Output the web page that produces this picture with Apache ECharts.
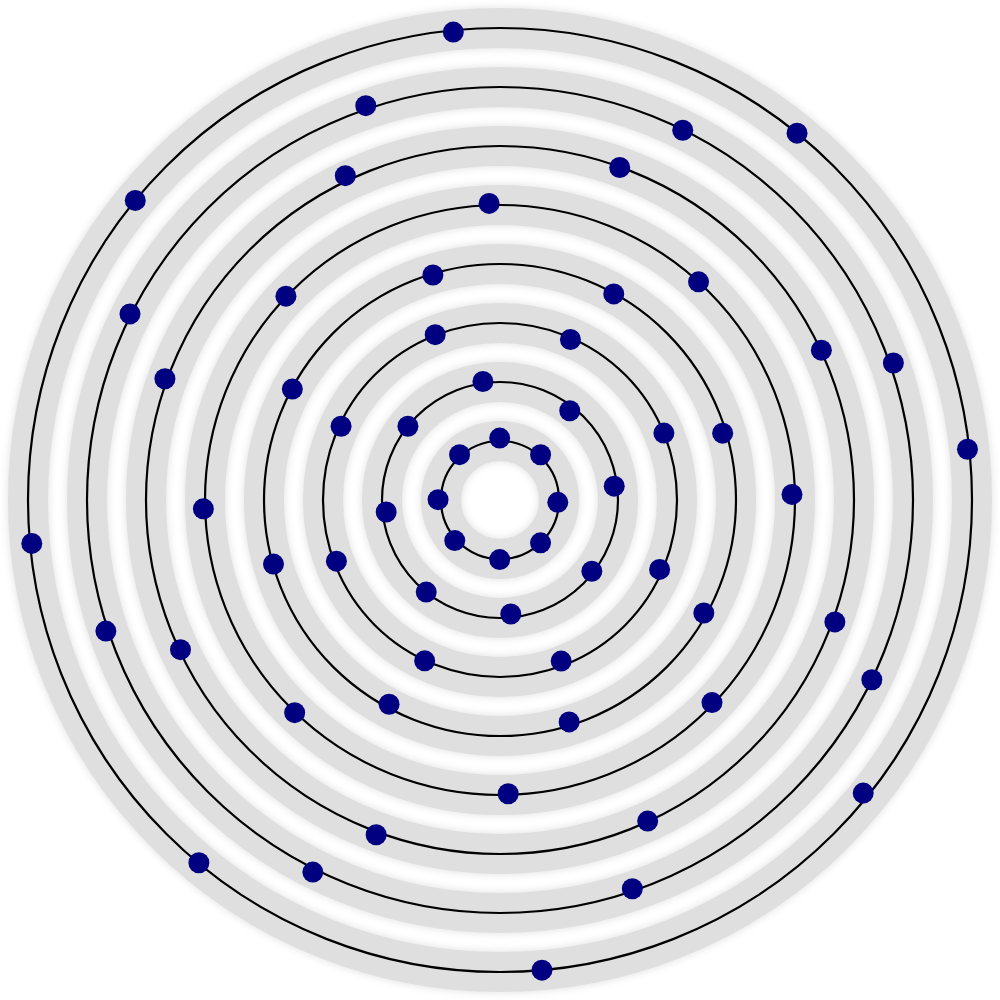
<!DOCTYPE html>
<html>
<head>
<meta charset="utf-8">
<script src="https://cdn.jsdelivr.net/npm/echarts@6/dist/echarts.min.js"></script>
<style>html,body{margin:0;padding:0;background:#fff}#c{width:1000px;height:1000px}</style>
</head>
<body>
<div id="c"></div>
<script>
// Ring values (radius axis) and tick values
const ringTicks = [1, 2, 3, 4, 5, 6, 7, 8];
// Radial value of each dot, one row per ring
const dotRadius = [
  [1.05, 1.03, 0.98, 1.00, 1.01, 1.03, 1.05, 1.03],
  [2.03, 1.92, 1.95, 1.97, 1.94, 2.00, 1.94, 2.00],
  [3.01, 2.97, 3.00, 2.95, 2.92, 3.01, 2.96, 2.97],
  [3.98, 3.99, 3.99, 3.94, 3.99, 3.95, 3.94, 3.94],
  [5.03, 5.00, 5.01, 4.95, 5.03, 4.97, 5.01, 4.98],
  [6.09, 5.99, 6.01, 6.04, 6.04, 5.98, 5.99, 6.05],
  [7.06, 6.99, 7.02, 7.06, 7.04, 7.00, 7.06, 6.96],
  [7.97, 8.00, 8.00, 7.97, 7.97, 7.91, 7.99, 8.00]
];
// Angle (degrees, counter-clockwise from east) of each dot, one row per ring
const dotAngle = [
  [90.3, 48.1, 357.7, 313.4, 269.7, 221.9, 179.7, 131.7],
  [98.2, 52.0, 6.9, 322.2, 275.4, 231.3, 186.0, 141.3],
  [111.4, 66.3, 22.2, 336.5, 290.8, 244.9, 200.5, 155.1],
  [106.6, 61.1, 151.9, 16.7, 195.8, 331.0, 241.5, 287.3],
  [92.1, 47.7, 136.4, 1.1, 181.7, 316.3, 226.0, 271.6],
  [115.5, 70.2, 25.0, 160.1, 340.0, 205.1, 294.7, 249.7],
  [108.8, 63.7, 153.3, 19.2, 198.4, 334.2, 243.3, 288.8],
  [95.7, 51.0, 140.6, 6.2, 185.3, 321.1, 230.3, 275.1]
];

const points = [];
dotRadius.forEach((row, i) => row.forEach((r, j) => points.push([r, dotAngle[i][j]])));

const chart = echarts.init(document.getElementById('c'), null, {renderer: 'canvas'});
const polarCommon = {center: ['50%', '50%'], radius: 472};
const angleCommon = {type: 'value', min: 0, max: 360, startAngle: 0, clockwise: false, show: false};
const radiusBase = {
  type: 'value', min: 0, max: ringTicks[ringTicks.length - 1], interval: 1,
  axisLine: {show: false}, axisTick: {show: false}, axisLabel: {show: false}
};
chart.setOption({
  animation: false,
  backgroundColor: '#ffffff',
  polar: [Object.assign({}, polarCommon), Object.assign({}, polarCommon)],
  angleAxis: [Object.assign({polarIndex: 0}, angleCommon), Object.assign({polarIndex: 1}, angleCommon)],
  radiusAxis: [
    Object.assign({polarIndex: 0, z: 0}, radiusBase, {
      splitLine: {show: true, lineStyle: {color: '#dfdfdf', width: 40, shadowBlur: 8, shadowColor: '#dfdfdf'}}
    }),
    Object.assign({polarIndex: 1, z: 1}, radiusBase, {
      splitLine: {show: true, lineStyle: {color: '#000000', width: 2.2}}
    })
  ],
  series: [{
    type: 'scatter',
    coordinateSystem: 'polar',
    polarIndex: 1,
    z: 5,
    symbol: 'circle',
    symbolSize: 21,
    itemStyle: {color: '#000080', opacity: 1},
    data: points
  }]
});
</script>
</body>
</html>
